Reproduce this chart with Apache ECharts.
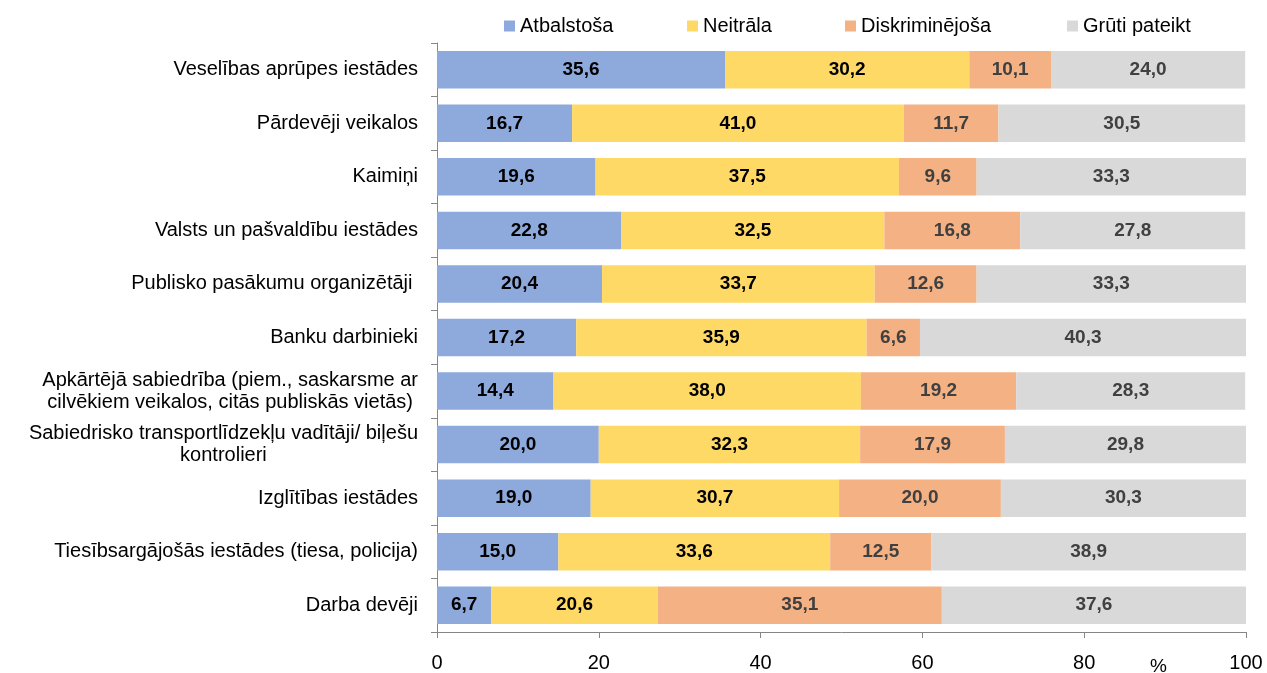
<!DOCTYPE html>
<html>
<head>
<meta charset="utf-8">
<script src="https://cdn.jsdelivr.net/npm/echarts@6/dist/echarts.min.js"></script>
<style>
  html, body { margin: 0; padding: 0; background: #fff; }
  #chart { width: 1267px; height: 673px; }
</style>
</head>
<body>
<div id="chart"></div>
<script>
// kategorijas (no augšas uz leju)
var categories = [
  'Veselības aprūpes iestādes',
  'Pārdevēji veikalos',
  'Kaimiņi',
  'Valsts un pašvaldību iestādes',
  'Publisko pasākumu organizētāji ',
  'Banku darbinieki',
  'Apkārtējā sabiedrība (piem., saskarsme ar\ncilvēkiem veikalos, citās publiskās vietās)',
  'Sabiedrisko transportlīdzekļu vadītāji/ biļešu\nkontrolieri',
  'Izglītības iestādes',
  'Tiesībsargājošās iestādes (tiesa, policija)',
  'Darba devēji'
]
var seriesNames = ['Atbalstoša', 'Neitrāla', 'Diskriminējoša', 'Grūti pateikt']
var atbalstosa = [35.6, 16.7, 19.6, 22.8, 20.4, 17.2, 14.4, 20.0, 19.0, 15.0, 6.7]
var neitrala = [30.2, 41.0, 37.5, 32.5, 33.7, 35.9, 38.0, 32.3, 30.7, 33.6, 20.6]
var diskriminejosa = [10.1, 11.7, 9.6, 16.8, 12.6, 6.6, 19.2, 17.9, 20.0, 12.5, 35.1]
var gruti = [24.0, 30.5, 33.3, 27.8, 33.3, 40.3, 28.3, 29.8, 30.3, 38.9, 37.6]
var xTicks = [0, 20, 40, 60, 80, 100]

var FONT = '"Liberation Sans", Arial, sans-serif'
var colors = ['#8EA9DB', '#FFD966', '#F4B183', '#D9D9D9']
var legendLeft = [504, 687, 845, 1067]

function fmt(p) {
  return p.value.toFixed(1).replace('.', ',')
}

function makeSeries(name, data, color, textColor) {
  return {
    name: name,
    type: 'bar',
    stack: 'total',
    barCategoryGap: '30%',
    data: data,
    itemStyle: { color: color },
    label: {
      show: true,
      position: 'inside',
      formatter: fmt,
      color: textColor,
      fontFamily: FONT,
      fontSize: 19,
      fontWeight: 'bold'
    }
  }
}

// katram leģendas ierakstam sava vieta
var legends = seriesNames.map(function (n, i) {
  return {
    top: 16,
    left: legendLeft[i],
    padding: 0,
    itemWidth: 11,
    itemHeight: 11,
    itemGap: 0,
    icon: 'rect',
    textStyle: { fontFamily: FONT, fontSize: 20, color: '#000' },
    data: [n]
  }
})

var chart = echarts.init(document.getElementById('chart'))
chart.setOption({
  animation: false,
  textStyle: { fontFamily: FONT },
  legend: legends,
  grid: {
    left: 437,
    right: 21,
    top: 43,
    bottom: 41,
    containLabel: false
  },
  xAxis: {
    type: 'value',
    min: 0,
    max: 100,
    interval: 20,
    axisLine: { show: true, lineStyle: { color: '#868686' } },
    axisTick: { show: true, length: 6, lineStyle: { color: '#868686' } },
    splitLine: { show: false },
    axisLabel: {
      fontFamily: FONT,
      fontSize: 20,
      color: '#000',
      margin: 21,
      formatter: function (v) { return xTicks.indexOf(v) >= 0 ? String(v) : '' }
    }
  },
  yAxis: {
    type: 'category',
    inverse: true,
    data: categories,
    axisLine: { show: true, lineStyle: { color: '#868686' } },
    axisTick: { show: true, length: 6, lineStyle: { color: '#868686' } },
    axisLabel: {
      fontFamily: FONT,
      fontSize: 20,
      color: '#000',
      margin: 19,
      lineHeight: 22,
      formatter: function (v) {
        return v.split('\n').map(function (s) { return '{c|' + s + '}' }).join('\n')
      },
      rich: {
        c: { align: 'center', fontFamily: FONT, fontSize: 20, color: '#000', lineHeight: 22 }
      }
    }
  },
  graphic: [{
    type: 'text',
    left: 1150,
    top: 657,
    style: { text: '%', fontFamily: FONT, fontSize: 19, fill: '#000' }
  }],
  series: [
    makeSeries(seriesNames[0], atbalstosa, colors[0], '#000'),
    makeSeries(seriesNames[1], neitrala, colors[1], '#000'),
    makeSeries(seriesNames[2], diskriminejosa, colors[2], '#404040'),
    makeSeries(seriesNames[3], gruti, colors[3], '#404040')
  ]
})
</script>
</body>
</html>
